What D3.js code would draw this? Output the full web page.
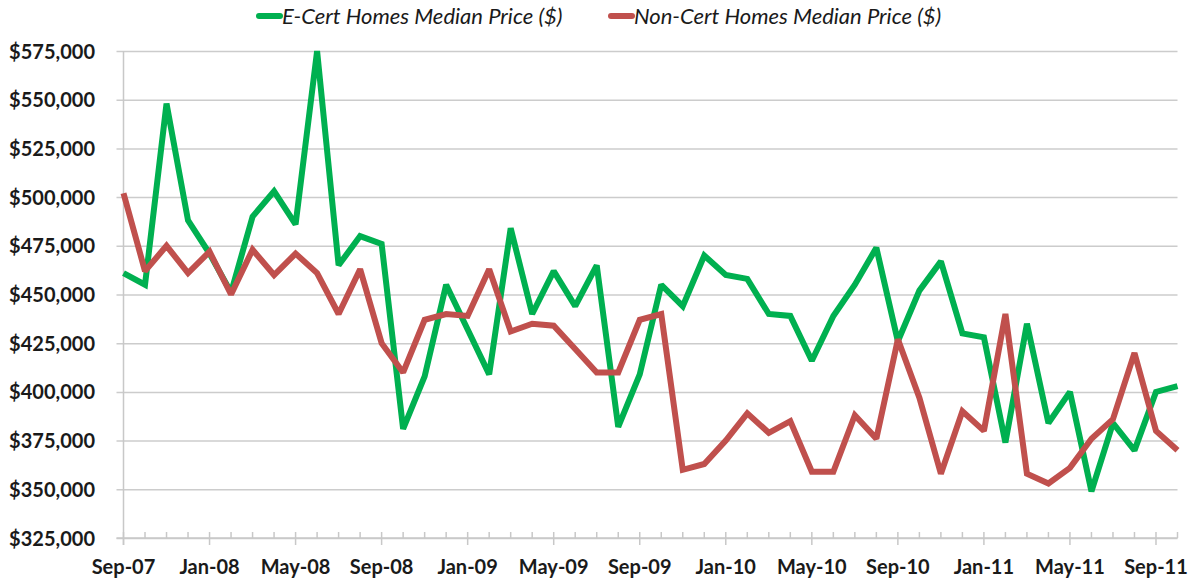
<!DOCTYPE html>
<html>
<head>
<meta charset="utf-8">
<script src="https://cdn.jsdelivr.net/npm/d3@7"></script>
<style>
  html, body { margin: 0; padding: 0; background: #fff; }
  svg { display: block; }
</style>
</head>
<body>
<div id="app"></div>
<script>
// monthly series, Sep-07 .. Oct-11
const months = d3.timeMonth.range(new Date(2007, 8, 1), new Date(2011, 10, 1));

const eCert = [
  461000, 455000, 548000, 488000, 471000, 451000, 490000, 503000, 486000, 575000,
  465000, 480000, 476000, 381000, 408000, 455000, 432000, 409000, 484000, 440000,
  462000, 444000, 465000, 382000, 409000, 455000, 444000, 470000, 460000, 458000,
  440000, 439000, 416000, 439000, 455000, 474000, 426000, 452000, 467000, 430000,
  428000, 374000, 435000, 384000, 400000, 349000, 384000, 370000, 400000, 403000
];

const nonCert = [
  502000, 462000, 475000, 461000, 472000, 450000, 473000, 460000, 471000, 461000,
  440000, 463000, 425000, 410000, 437000, 440000, 439000, 463000, 431000, 435000,
  434000, 422000, 410000, 410000, 437000, 440000, 360000, 363000, 375000, 389000,
  379000, 385000, 359000, 359000, 388000, 376000, 427000, 397000, 358000, 390000,
  380000, 440000, 358000, 353000, 361000, 376000, 386000, 420000, 380000, 370000
];

const yTicks = [325000, 350000, 375000, 400000, 425000, 450000, 475000, 500000, 525000, 550000, 575000];

const seriesNames = ['E-Cert Homes Median Price ($)', 'Non-Cert Homes Median Price ($)'];
const seriesColors = ['#00b050', '#c0504d'];

const width = 1200;
const height = 582;
const plotLeft = 123.5, plotRight = 1177.5, plotTop = 51, plotBottom = 538;

const svg = d3.select('#app')
  .append('svg')
  .attr('width', width)
  .attr('height', height);

const x = d3.scalePoint()
  .domain(d3.range(months.length))
  .range([plotLeft, plotRight]);

const y = d3.scaleLinear()
  .domain([325000, 575000])
  .range([plotBottom, plotTop]);

const fmtMoney = v => '$' + d3.format(',')(v);
const fmtMonth = d3.timeFormat('%b-%y');

// gridlines + y labels
const yAxis = d3.axisLeft(y)
  .tickValues(yTicks)
  .tickSize(-(plotRight - plotLeft))
  .tickPadding(0)
  .tickFormat(fmtMoney);

const gy = svg.append('g')
  .attr('transform', `translate(${plotLeft},0)`)
  .call(yAxis);
gy.select('.domain').remove();
gy.selectAll('.tick line')
  .attr('x1', -7)
  .attr('stroke', '#cccccc')
  .attr('stroke-width', 1.5);
gy.selectAll('.tick text')
  .attr('x', -28.5)
  .attr('dy', '0.35em')
  .attr('fill', '#1a1a1a')
  .style('font', 'bold 20px Lato, "Open Sans", sans-serif');

// left axis line
svg.append('line')
  .attr('x1', plotLeft).attr('x2', plotLeft)
  .attr('y1', plotTop).attr('y2', plotBottom + 7)
  .attr('stroke', '#c8c8c8')
  .attr('stroke-width', 1.5);

// bottom axis with month ticks
const gx = svg.append('g');
gx.append('line')
  .attr('x1', plotLeft - 7).attr('x2', plotRight)
  .attr('y1', plotBottom).attr('y2', plotBottom)
  .attr('stroke', '#c8c8c8')
  .attr('stroke-width', 1.5);

gx.selectAll('.mtick')
  .data(d3.range(months.length))
  .enter()
  .append('line')
  .attr('class', 'mtick')
  .attr('x1', d => x(d)).attr('x2', d => x(d))
  .attr('y1', plotBottom - 6)
  .attr('y2', d => d % 4 === 0 ? plotBottom + 7 : plotBottom)
  .attr('stroke', '#c8c8c8')
  .attr('stroke-width', 1.5);

gx.selectAll('.mlabel')
  .data(d3.range(months.length).filter(i => i % 4 === 0))
  .enter()
  .append('text')
  .attr('class', 'mlabel')
  .attr('x', d => x(d))
  .attr('y', 574)
  .attr('text-anchor', 'middle')
  .attr('fill', '#1a1a1a')
  .style('font', 'bold 20px Lato, "Open Sans", sans-serif')
  .text(d => fmtMonth(months[d]));

// lines
const line = d3.line()
  .x((d, i) => x(i))
  .y(d => y(d));

[eCert, nonCert].forEach((s, k) => {
  svg.append('path')
    .datum(s)
    .attr('fill', 'none')
    .attr('stroke', seriesColors[k])
    .attr('stroke-width', 6)
    .attr('stroke-linejoin', 'miter')
    .attr('stroke-miterlimit', 2)
    .attr('d', line);
});

// legend
const legendX = [257, 609];
const legend = svg.selectAll('.legend')
  .data(seriesNames)
  .enter()
  .append('g')
  .attr('class', 'legend')
  .attr('transform', (d, i) => `translate(${legendX[i]},16)`);

legend.append('line')
  .attr('x1', 2).attr('x2', 23)
  .attr('stroke', (d, i) => seriesColors[i])
  .attr('stroke-width', 6)
  .attr('stroke-linecap', 'round');

legend.append('text')
  .attr('x', 25)
  .attr('dy', '0.35em')
  .attr('fill', '#1a1a1a')
  .style('font', 'italic 22px Lato, "Open Sans", sans-serif')
  .text(d => d);
</script>
</body>
</html>
